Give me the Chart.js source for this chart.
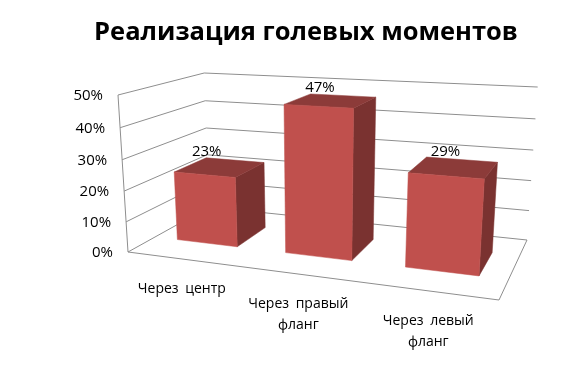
<!DOCTYPE html>
<html>
<head>
  <meta charset="utf-8">
  <script src="https://cdn.jsdelivr.net/npm/chart.js"></script>
  <style>
    html, body { margin: 0; background: #fff; }
    canvas { display: block; }
  </style>
</head>
<body>
  <canvas id="chart" width="586" height="366"></canvas>
  <script>
    const chartTitle = 'Реализация голевых моментов'
    const categories = [['Через центр'], ['Через правый', 'фланг'], ['Через левый', 'фланг']]
    const values = [23, 47, 29]
    const tickValues = [0, 10, 20, 30, 40, 50]

    const labelFont = '14px "Open Sans"'
    const numberFont = '15px "Open Sans"'
    const frontColor = '#C0504D'
    const sideColor = '#7A3230'
    const topColor = '#8C3B39'
    const gridColor = '#8E8E8E'

    // floor corners of the 3D box on the page, and how the walls lean
    const floor = { x0: 128, y0: 252, x1: 499, y1: 300, x2: 527, y2: 240, x3: 209, y3: 207 }
    const frontTop = { x: 118, y: 95 }
    const topShrink = -0.05
    const barFront = 0.3
    const barBack = 0.7

    // camera matrix for (u along categories, v up, w into the page)
    function buildCamera(f) {
      const dx1 = f.x1 - f.x2, dx2 = f.x3 - f.x2, sx = f.x0 - f.x1 + f.x2 - f.x3
      const dy1 = f.y1 - f.y2, dy2 = f.y3 - f.y2, sy = f.y0 - f.y1 + f.y2 - f.y3
      const den = dx1 * dy2 - dx2 * dy1
      const g = (sx * dy2 - dx2 * sy) / den
      const h = (dx1 * sy - sx * dy1) / den
      return {
        a: f.x1 * (1 + g) - f.x0, b: f.x3 * (1 + h) - f.x0, c: f.x0,
        d: f.y1 * (1 + g) - f.y0, e: f.y3 * (1 + h) - f.y0, f: f.y0,
        g, h,
        px: frontTop.x * (1 + topShrink) - f.x0,
        py: frontTop.y * (1 + topShrink) - f.y0,
        pz: topShrink
      }
    }
    const cam = buildCamera(floor)

    function project(u, v, w) {
      const n = cam.g * u + cam.pz * v + cam.h * w + 1
      return {
        x: (cam.a * u + cam.px * v + cam.b * w + cam.c) / n,
        y: (cam.d * u + cam.py * v + cam.e * w + cam.f) / n
      }
    }

    function line(ctx, p, q) {
      ctx.beginPath()
      ctx.moveTo(p.x, p.y)
      ctx.lineTo(q.x, q.y)
      ctx.stroke()
    }

    function face(ctx, points, color) {
      ctx.fillStyle = color
      ctx.strokeStyle = color
      ctx.lineWidth = 0.5
      ctx.beginPath()
      points.forEach((p, i) => i ? ctx.lineTo(p.x, p.y) : ctx.moveTo(p.x, p.y))
      ctx.closePath()
      ctx.fill()
      ctx.stroke()
    }

    // scale pixels -> 0..1 box coordinates
    function toU(chart, px) {
      const s = chart.scales.x
      return (px - s.left) / s.width
    }
    function toV(chart, value) {
      const s = chart.scales.y
      return (s.bottom - s.getPixelForValue(value)) / s.height
    }

    const box3d = {
      id: 'box3d',
      beforeDatasetsDraw(chart) {
        const ctx = chart.ctx
        ctx.save()
        ctx.strokeStyle = gridColor
        ctx.lineWidth = 1
        chart.scales.y.ticks.forEach(t => {
          const v = toV(chart, t.value)
          line(ctx, project(0, v, 0), project(0, v, 1))
          line(ctx, project(0, v, 1), project(1, v, 1))
        })
        line(ctx, project(0, 0, 0), project(0, 1, 0))
        line(ctx, project(0, 0, 0), project(1, 0, 0))
        line(ctx, project(1, 0, 0), project(1, 0, 1))
        ctx.restore()
      },
      beforeDatasetDraw(chart, args) {
        const ctx = chart.ctx
        ctx.save()
        args.meta.data.forEach((el) => {
          const u0 = toU(chart, el.x - el.width / 2)
          const u1 = toU(chart, el.x + el.width / 2)
          const v = toV(chart, chart.scales.y.getValueForPixel(el.y))
          face(ctx, [project(u1, 0, barFront), project(u1, 0, barBack), project(u1, v, barBack), project(u1, v, barFront)], sideColor)
          face(ctx, [project(u0, v, barFront), project(u1, v, barFront), project(u1, v, barBack), project(u0, v, barBack)], topColor)
          face(ctx, [project(u0, 0, barFront), project(u1, 0, barFront), project(u1, v, barFront), project(u0, v, barFront)], frontColor)
        })
        ctx.restore()
        return false
      },
      afterDatasetsDraw(chart) {
        const ctx = chart.ctx
        ctx.save()
        ctx.fillStyle = '#000'
        ctx.textBaseline = 'middle'

        // value axis labels follow the front left edge
        ctx.font = numberFont
        ctx.textAlign = 'right'
        chart.scales.y.ticks.forEach(t => {
          const p = project(0, toV(chart, t.value), 0)
          ctx.fillText(t.label, p.x - 15, p.y + 1)
        })

        // data labels sit above the back edge of each bar
        ctx.textAlign = 'center'
        chart.getDatasetMeta(0).data.forEach((el, i) => {
          const u = toU(chart, el.x)
          const v = toV(chart, values[i])
          const back = project(u, v, barBack)
          const front = project(u, v, barFront)
          ctx.fillText(values[i] + '%', (back.x + front.x) / 2 - 14 + 7 * u, back.y - 8)
        })

        // category labels under the front floor edge
        ctx.font = labelFont
        ctx.wordSpacing = '3px'
        chart.getDatasetMeta(0).data.forEach((el, i) => {
          const p = project(toU(chart, el.x), 0, 0)
          categories[i].forEach((text, n) => ctx.fillText(text, p.x, p.y + 30 + n * 21))
        })
        ctx.restore()
      }
    }

    new Chart(document.getElementById('chart'), {
      type: 'bar',
      data: {
        labels: categories,
        datasets: [{ data: values, backgroundColor: frontColor, categoryPercentage: 1, barPercentage: 0.565 }]
      },
      options: {
        responsive: false,
        animation: false,
        layout: { padding: { left: 26, top: 10 } },
        plugins: {
          legend: { display: false },
          tooltip: { enabled: false },
          title: {
            display: true,
            text: chartTitle,
            color: '#000',
            font: { family: '"Open Sans"', size: 25.5, weight: 'bold' },
            padding: { top: 7, bottom: 10 }
          }
        },
        scales: {
          x: { display: false },
          y: {
            display: false,
            min: tickValues[0],
            max: tickValues[tickValues.length - 1],
            ticks: { stepSize: 10, callback: v => v + '%' }
          }
        }
      },
      plugins: [box3d]
    })
  </script>
</body>
</html>
